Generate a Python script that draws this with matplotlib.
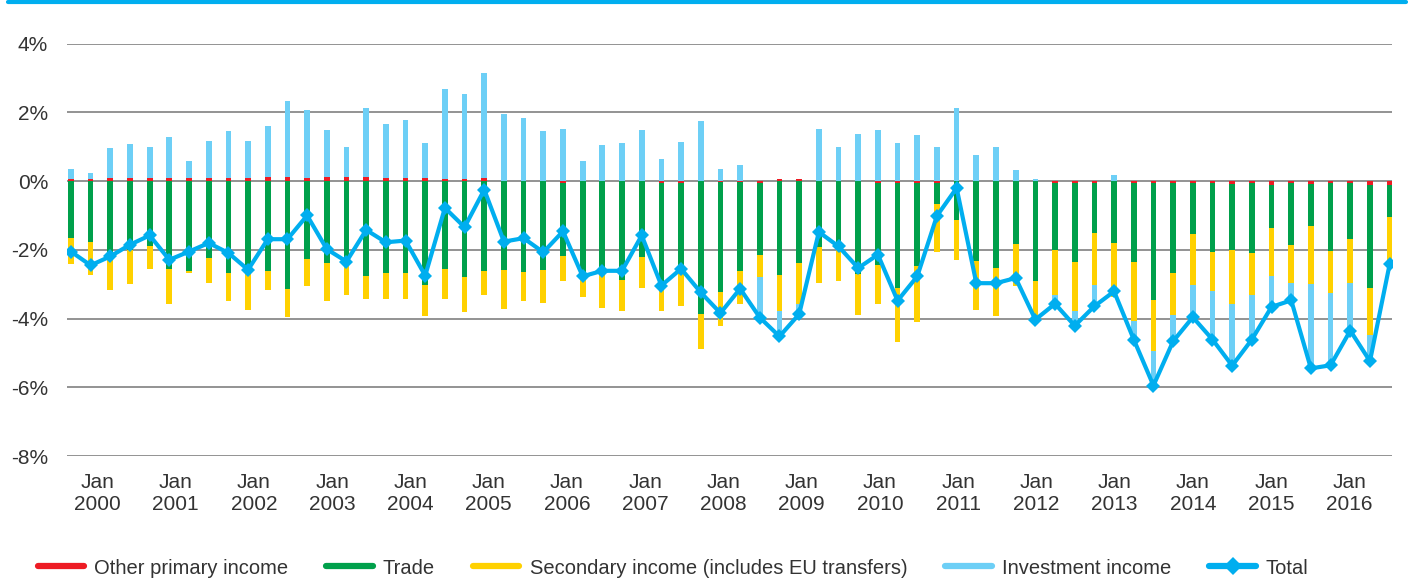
import matplotlib
matplotlib.use("Agg")
import matplotlib.pyplot as plt
from matplotlib.lines import Line2D
import numpy as np

plt.rcParams['font.family'] = ['Liberation Sans', 'DejaVu Sans']

# ---- data (% of GDP), quarterly ----
other_primary = [0.05, 0.05, 0.08, 0.08, 0.08, 0.08, 0.08, 0.08, 0.08, 0.08,
                 0.13, 0.13, 0.08, 0.13, 0.13, 0.13, 0.08, 0.08, 0.08, 0.05,
                 0.05, 0.08, 0.0, 0.0, 0.0, -0.04, 0.0, 0.0, 0.0, 0.0,
                 -0.04, -0.04, 0.0, -0.02, -0.02, -0.04, 0.07, 0.07, 0.0, 0.0,
                 0.0, -0.04, -0.04, -0.04, -0.04, 0.0, 0.0, 0.0, 0.0, 0.0,
                 -0.04, -0.04, -0.04, 0.0, -0.04, -0.04, -0.04, -0.04, -0.04, -0.07,
                 -0.04, -0.10, -0.04, -0.07, -0.04, -0.04, -0.10, -0.10]

trade_bottom = [-1.65, -1.78, -2.15, -2.00, -1.88, -2.55, -2.61, -2.23, -2.67, -2.43,
                -2.61, -3.13, -2.26, -2.38, -2.48, -2.75, -2.67, -2.67, -3.01, -2.55,
                -2.78, -2.61, -2.58, -2.64, -2.58, -2.17, -2.85, -2.65, -2.87, -2.20,
                -3.00, -2.58, -3.86, -3.22, -2.61, -2.14, -2.73, -2.38, -1.91, -2.00,
                -2.69, -2.43, -3.10, -2.46, -0.66, -1.13, -2.32, -2.52, -1.82, -2.90,
                -2.00, -2.35, -1.50, -1.79, -2.35, -3.45, -2.67, -1.53, -2.06, -2.00,
                -2.09, -1.36, -1.85, -1.30, -2.03, -1.68, -3.10, -1.04]

secondary_bottom = [-2.40, -2.72, -3.18, -2.99, -2.55, -3.57, -2.67, -2.96, -3.48, -3.74,
                    -3.18, -3.95, -3.04, -3.48, -3.31, -3.44, -3.44, -3.44, -3.92, -3.42,
                    -3.80, -3.31, -3.71, -3.48, -3.54, -2.90, -3.36, -3.68, -3.77, -3.10,
                    -3.77, -3.62, -4.90, -4.21, -3.59, -2.78, -3.77, -3.59, -2.96, -2.90,
                    -3.89, -3.59, -4.67, -4.09, -2.05, -2.29, -3.74, -3.92, -3.06, -4.08,
                    -3.31, -3.79, -3.01, -3.38, -4.06, -4.93, -3.89, -3.01, -3.19, -3.59,
                    -3.31, -2.75, -2.96, -2.99, -3.25, -2.96, -4.49, -2.29]

investment = [0.31, 0.19, 0.89, 1.00, 0.92, 1.21, 0.51, 1.09, 1.38, 1.09,
              1.48, 2.19, 1.99, 1.36, 0.87, 2.00, 1.59, 1.70, 1.03, 2.63,
              2.49, 3.07, 1.96, 1.84, 1.46, 1.52, 0.59, 1.06, 1.11, 1.49,
              0.65, 1.14, 1.75, 0.36, 0.47, -1.17, -0.78, -0.33, 1.52, 1.00,
              1.37, 1.49, 1.11, 1.34, 1.00, 2.13, 0.77, 1.00, 0.33, 0.07,
              -0.26, -0.42, -0.63, 0.18, -0.55, -1.02, -0.77, -0.95, -1.42, -1.78,
              -1.30, -0.91, -0.49, -2.46, -2.11, -1.39, -0.75, -0.14]

total = [-2.05, -2.45, -2.19, -1.85, -1.58, -2.29, -2.05, -1.80, -2.09, -2.58,
         -1.69, -1.69, -1.00, -1.98, -2.34, -1.42, -1.78, -1.73, -2.75, -0.78,
         -1.34, -0.25, -1.76, -1.66, -2.07, -1.46, -2.77, -2.61, -2.61, -1.58,
         -3.04, -2.55, -3.24, -3.84, -3.13, -3.97, -4.52, -3.87, -1.48, -1.90,
         -2.53, -2.14, -3.48, -2.77, -1.01, -0.20, -2.97, -2.97, -2.82, -4.03,
         -3.57, -4.21, -3.64, -3.21, -4.61, -5.95, -4.66, -3.96, -4.61, -5.37,
         -4.61, -3.66, -3.47, -5.45, -5.36, -4.35, -5.24, -2.42]

year_labels = ["Jan\n%d" % y for y in range(2000, 2017)]

# derived components
op = np.array(other_primary)
tb = np.array(trade_bottom)
sb = np.array(secondary_bottom)
trade = tb - np.minimum(op, 0)
secondary = sb - tb

series = [
    ("Other primary income", op, '#ED1C24'),
    ("Trade", trade, '#00A04B'),
    ("Secondary income (includes EU transfers)", secondary, '#FFD100'),
    ("Investment income", np.array(investment), '#6DCFF6'),
]
total_color = '#00AEEF'
text_color = '#333333'

fig = plt.figure(figsize=(14.11, 5.85), dpi=100)
ax = fig.add_axes([67/1411, 1-456/585, (1392-67)/1411, (456-43.7)/585])

n = len(total)
x = np.arange(n)
pos_b = np.zeros(n)
neg_b = np.zeros(n)
for name, vals, col in series:
    bottoms = np.where(vals >= 0, pos_b, neg_b)
    ax.bar(x, vals, width=0.29, bottom=bottoms, color=col, linewidth=0, zorder=3)
    pos_b = pos_b + np.where(vals >= 0, vals, 0)
    neg_b = neg_b + np.where(vals < 0, vals, 0)

ax.plot(x, total, color=total_color, lw=3.0, marker='D', markersize=7.5,
        markeredgewidth=0, zorder=5)

ax.set_xlim(-0.2, 67.12)
ax.set_ylim(-8, 4)
ax.set_yticks(np.arange(-8, 5, 2))
ax.set_yticklabels(["%d%%" % v for v in range(-8, 5, 2)])
ax.yaxis.grid(True, color='#8a8a8a', lw=1.3, zorder=1)
ax.set_axisbelow(True)
for s in ax.spines.values():
    s.set_visible(False)
ax.tick_params(axis='y', length=0, pad=13.5, labelsize=15, labelcolor=text_color)
ax.tick_params(axis='x', length=0, pad=12, labelsize=15, labelcolor=text_color)
ax.set_xticks([1.35 + 3.975 * k for k in range(len(year_labels))])
ax.set_xticklabels(year_labels, linespacing=1.25)

# top border of the frame
fig.add_artist(Line2D([8/1411, 1406/1411], [1-1.5/585, 1-1.5/585],
                      transform=fig.transFigure, color=total_color, lw=3,
                      solid_capstyle='round'))

handles = [Line2D([], [], color=c, lw=4.5, solid_capstyle='round') for _, _, c in series]
handles.append(Line2D([], [], color=total_color, lw=4.5, marker='D', markersize=9,
                      markeredgewidth=0, solid_capstyle='round'))
labels = [s[0] for s in series] + ["Total"]
fig.legend(handles, labels, loc='center', bbox_to_anchor=(0.477, 0.029), ncol=5,
           frameon=False, fontsize=14.5, handlelength=2.3, handletextpad=0.5,
           columnspacing=1.9, labelcolor=text_color)

fig.savefig("out.png", dpi=100)
